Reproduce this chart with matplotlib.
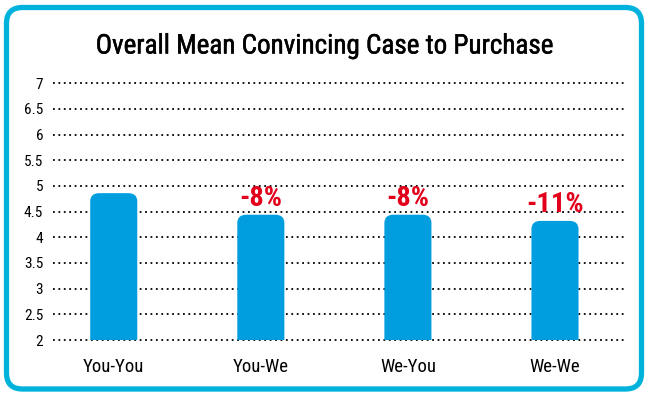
import matplotlib
matplotlib.use("Agg")
import matplotlib.pyplot as plt
import matplotlib.patheffects as pe
from matplotlib.patches import FancyBboxPatch
from matplotlib import font_manager
import logging
logging.getLogger("matplotlib.font_manager").setLevel(logging.ERROR)

categories = ["You-You", "You-We", "We-You", "We-We"]
values = [4.86, 4.44, 4.44, 4.32]
changes = ["", "-8%", "-8%", "-11%"]
yticks = [2, 2.5, 3, 3.5, 4, 4.5, 5, 5.5, 6, 6.5, 7]
ytick_labels = ["2", "2.5", "3", "3.5", "4", "4.5", "5", "5.5", "6", "6.5", "7"]
title = "Overall Mean Convincing Case to Purchase"

installed = {f.name for f in font_manager.fontManager.ttflist}
candidates = ["Roboto Condensed", "Archivo Narrow", "PT Sans Narrow", "Barlow Condensed",
              "Liberation Sans Narrow", "Open Sans Condensed", "Fira Sans Condensed",
              "IBM Plex Sans Condensed", "Saira Condensed", "Asap Condensed", "Encode Sans Condensed"]
FONT = [c for c in candidates if c in installed][:1] + ["DejaVu Sans"]
plt.rcParams["font.family"] = FONT

W, H, DPI = 650, 398, 100
fig = plt.figure(figsize=(W / DPI, H / DPI), dpi=DPI)
fig.patch.set_facecolor("white")

border = FancyBboxPatch((6.5 / DPI, (H - 389) / DPI), (641.5 - 6.5) / DPI, (389 - 7.5) / DPI,
                        boxstyle="round,pad=0,rounding_size=0.16",
                        transform=fig.dpi_scale_trans, fill=False,
                        edgecolor="#00b2dc", linewidth=3.8, zorder=0)
fig.patches.append(border)

left, right = 53 / W, 625 / W
bottom, top = 1 - 340 / H, 1 - 83.3 / H
ax = fig.add_axes([left, bottom, right - left, top - bottom])
ax.set_xlim(-0.413, 3.476)
ax.set_ylim(2, 7)
for s in ax.spines.values():
    s.set_visible(False)
ax.set_facecolor("none")

ax.hlines(yticks, -0.413, 3.476, colors="black", linestyles=(0, (1, 2.0)),
          linewidth=1.3, clip_on=False, zorder=1)

ax.set_yticks(yticks)
ax.set_yticklabels(ytick_labels, fontsize=11)
ax.tick_params(axis="y", length=0, pad=7)
x = list(range(len(categories)))
ax.set_xticks(x)
ax.set_xticklabels(categories, fontsize=13.5)
ax.tick_params(axis="x", length=0, pad=13)

bar_color = "#009ddf"
bars = ax.bar(x, values, width=0.32, bottom=0, color="none", edgecolor="none")
for rect, lab in zip(bars, changes):
    bx, bw, bh = rect.get_x(), rect.get_width(), rect.get_height()
    p = FancyBboxPatch((bx, 1.5), bw, bh - 1.5,
                       boxstyle="round,pad=0,rounding_size=0.06",
                       mutation_aspect=2.7, facecolor=bar_color,
                       edgecolor="none", zorder=2)
    ax.add_patch(p)
    if lab:
        ax.text(bx + bw / 2, bh + 0.06, lab, ha="center", va="bottom",
                fontsize=20.5, fontweight="bold", color="#e3001b", zorder=3)

fig.text(0.5, 1 - 46 / H, title, ha="center", va="center", fontsize=19.5,
         path_effects=[pe.withStroke(linewidth=0.35, foreground="black")])

fig.savefig("out.png", dpi=DPI)
